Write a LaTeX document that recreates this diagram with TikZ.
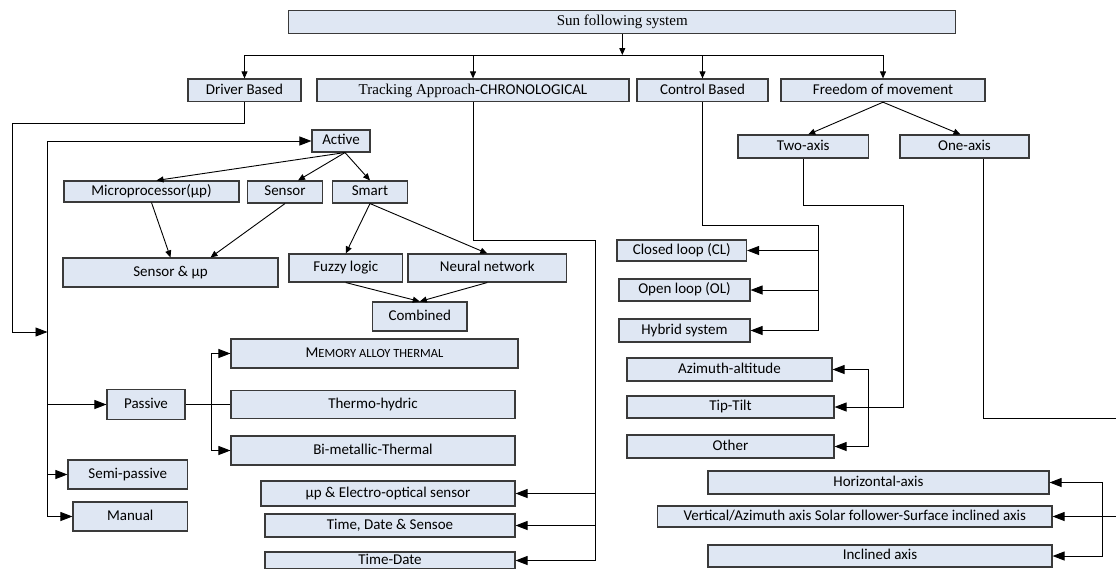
\documentclass[tikz,border=0pt]{standalone}
\usepackage{fontspec}
\setmainfont{Carlito}
\newfontfamily\serifface{Liberation Serif}
\usepackage{xcolor}
\definecolor{boxFill}{HTML}{DFE7F3}
\definecolor{boxBorder}{HTML}{3A3A3A}
\usepackage{tikz}
\usetikzlibrary{arrows.meta,positioning,calc}
\tikzset{
    box/.style={
        draw=boxBorder,
        fill=boxFill,
        rectangle,
        line width=1.1pt,
        inner sep=0pt,
        align=center,
        text height=10.5pt,
        text depth=3pt,
        font=\fontsize{15}{18}\selectfont
    },
    arrow/.style={
        -{Triangle[length=7pt,width=6pt]},
        line width=0.9pt,
        color=black
    },
    bigarrow/.style={
        -{Triangle[length=12pt,width=9pt]},
        line width=0.9pt,
        color=black
    },
    wire/.style={
        line width=0.9pt,
        color=black
    }
}

\begin{document}
\begin{tikzpicture}[x=1pt,y=-1pt]
    \useasboundingbox (0,0) rectangle (1116,568);

    % Root and first level
    \node[box, minimum width=667pt, minimum height=22.6pt] (sun) at (622.3,22) {\serifface Sun following system};
    \node[box, minimum width=113pt, minimum height=22.7pt] (driver) at (244.5,90.3) {Driver Based};
    \node[box, minimum width=312pt, minimum height=22.7pt] (tracking) at (473,90.3) {{\serifface Tracking Approach-}CHRONOLOGICAL};
    \node[box, minimum width=131pt, minimum height=22.7pt] (control) at (702.5,90.3) {Control Based};
    \node[box, minimum width=204pt, minimum height=22.7pt] (freedom) at (883,90.3) {Freedom of movement};

    % Driver based
    \node[box, minimum width=58pt, minimum height=22pt] (active) at (341,141) {Active};
    \node[box, minimum width=175pt, minimum height=21pt] (micro) at (151.5,191.5) {Microprocessor(μp)};
    \node[box, minimum width=75pt, minimum height=22pt] (sensor) at (285,192) {Sensor};
    \node[box, minimum width=74.5pt, minimum height=22pt] (smart) at (370,192) {Smart};
    \node[box, minimum width=215pt, minimum height=29pt] (sensmp) at (170.5,272.5) {Sensor \& μp};
    \node[box, minimum width=113.5pt, minimum height=28pt] (fuzzy) at (345.75,268) {Fuzzy logic};
    \node[box, minimum width=158.5pt, minimum height=28pt] (neural) at (487.25,268) {Neural network};
    \node[box, minimum width=94.5pt, minimum height=29pt] (combined) at (419.75,316.5) {Combined};
    \node[box, minimum width=287pt, minimum height=29pt] (memory) at (374.5,353.5) {M{\fontsize{12.5}{14}\selectfont EMORY ALLOY THERMAL}};
    \node[box, minimum width=284pt, minimum height=28pt] (thermo) at (373,404.5) {Thermo-hydric};
    \node[box, minimum width=284pt, minimum height=29pt] (bimetal) at (373,450.5) {Bi-metallic-Thermal};
    \node[box, minimum width=78pt, minimum height=30pt] (passive) at (146,404.5) {Passive};
    \node[box, minimum width=119.5pt, minimum height=29pt] (semi) at (127.75,474.5) {Semi-passive};
    \node[box, minimum width=114.5pt, minimum height=29pt] (manual) at (130.25,516.5) {Manual};

    % Chronological
    \node[box, minimum width=254pt, minimum height=25pt] (mpeo) at (388,493.5) {μp \& Electro-optical sensor};
    \node[box, minimum width=250pt, minimum height=23pt] (tds) at (390,525.5) {Time, Date \& Sensoe};
    \node[box, minimum width=250pt, minimum height=17pt] (td) at (390,560.5) {Time-Date};

    % Control based
    \node[box, minimum width=129.5pt, minimum height=21pt] (closed) at (681.75,250.5) {Closed loop (CL)};
    \node[box, minimum width=131pt, minimum height=22pt] (open) at (684.5,290) {Open loop (OL)};
    \node[box, minimum width=131pt, minimum height=23pt] (hybrid) at (684.5,330.5) {Hybrid system};

    % Freedom of movement
    \node[box, minimum width=130.5pt, minimum height=23pt] (twoaxis) at (803.25,146.5) {Two-axis};
    \node[box, minimum width=129pt, minimum height=23pt] (oneaxis) at (964.5,146.5) {One-axis};
    \node[box, minimum width=205pt, minimum height=23pt] (azim) at (729.5,369.5) {Azimuth-altitude};
    \node[box, minimum width=207pt, minimum height=22pt] (tiptilt) at (730.5,407) {Tip-Tilt};
    \node[box, minimum width=207pt, minimum height=23pt] (other) at (730.5,446.5) {Other};
    \node[box, minimum width=341pt, minimum height=23pt] (horiz) at (878.5,482.5) {Horizontal-axis};
    \node[box, minimum width=394.5pt, minimum height=21pt] (vert) at (854.75,516.5) {Vertical/Azimuth axis Solar follower-Surface inclined axis};
    \node[box, minimum width=344pt, minimum height=22pt] (incl) at (880,556) {Inclined axis};

    % Root bus
    \coordinate (bus) at (622.3,55);
    \draw[arrow] (sun.south) -- (bus);
    \draw[wire] (driver.north |- bus) -- (freedom.north |- bus);
    \foreach \n in {driver,tracking,control,freedom}
        \draw[arrow] (\n.north |- bus) -- (\n.north);

    % Driver branch
    \coordinate (spinetop) at (47.5,141);
    \coordinate (spinebot) at (47.5,516.5);
    \coordinate (drvin) at (47.5,332);
    \draw[bigarrow] (driver.south) |- (12,123) -- (12,332) -- (drvin);
    \draw[wire] (spinetop) -- (spinebot);
    \draw[bigarrow] (spinetop) -- (active.west);
    \foreach \n in {passive,semi,manual}
        \draw[bigarrow] (spinetop |- \n.west) -- (\n.west);

    \draw[arrow] ([xshift=4pt]active.south) -- ([xshift=5pt]micro.north);
    \draw[arrow] ([xshift=4pt]active.south) -- ([xshift=13pt]sensor.north);
    \draw[arrow] ([xshift=4pt]active.south) -- (smart.north);
    \draw[arrow] (micro.south) -- (sensmp.north);
    \draw[arrow] (sensor.south) -- ([xshift=40pt]sensmp.north);
    \draw[arrow] (smart.south) -- (fuzzy.north);
    \draw[arrow] (smart.south) -- (neural.north);
    \draw[arrow] (fuzzy.south) -- (combined.north);
    \draw[arrow] (neural.south) -- (combined.north);

    \coordinate (pasfork) at (211,404.5);
    \draw[wire] (passive.east) -- (thermo.west);
    \draw[bigarrow] (pasfork) |- (memory.west);
    \draw[bigarrow] (pasfork) |- (bimetal.west);

    % Chronological branch
    \coordinate (trkfork) at (595.5,240);
    \draw[wire] (tracking.south) |- (trkfork);
    \foreach \n in {mpeo,tds,td}
        \draw[bigarrow] (trkfork) |- (\n.east);

    % Control branch
    \coordinate (ctlfork) at (818,225);
    \draw[wire] (control.south) |- (ctlfork);
    \foreach \n in {closed,open,hybrid}
        \draw[bigarrow] (ctlfork) |- (\n.east);

    % Freedom branch
    \draw[arrow] (freedom.south) -- ([xshift=5pt]twoaxis.north);
    \draw[arrow] (freedom.south) -- ([xshift=-4pt]oneaxis.north);
    \coordinate (twofork) at (903,205);
    \draw[wire] (twoaxis.south) |- (twofork);
    \draw[bigarrow] (twofork) |- (tiptilt.east);
    \coordinate (tiltfork) at (868.5,407);
    \draw[bigarrow] (tiltfork) |- (azim.east);
    \draw[bigarrow] (tiltfork) |- (other.east);

    \coordinate (oneexit) at (1116,418);
    \draw[wire] ([xshift=18.5pt]oneaxis.south) |- (oneexit);
    \coordinate (axisentry) at (1116,516.5);
    \coordinate (axisfork) at (1102,516.5);
    \draw[bigarrow] (axisentry) -- (vert.east);
    \draw[bigarrow] (axisfork) |- (horiz.east);
    \draw[bigarrow] (axisfork) |- (incl.east);
\end{tikzpicture}
\end{document}
